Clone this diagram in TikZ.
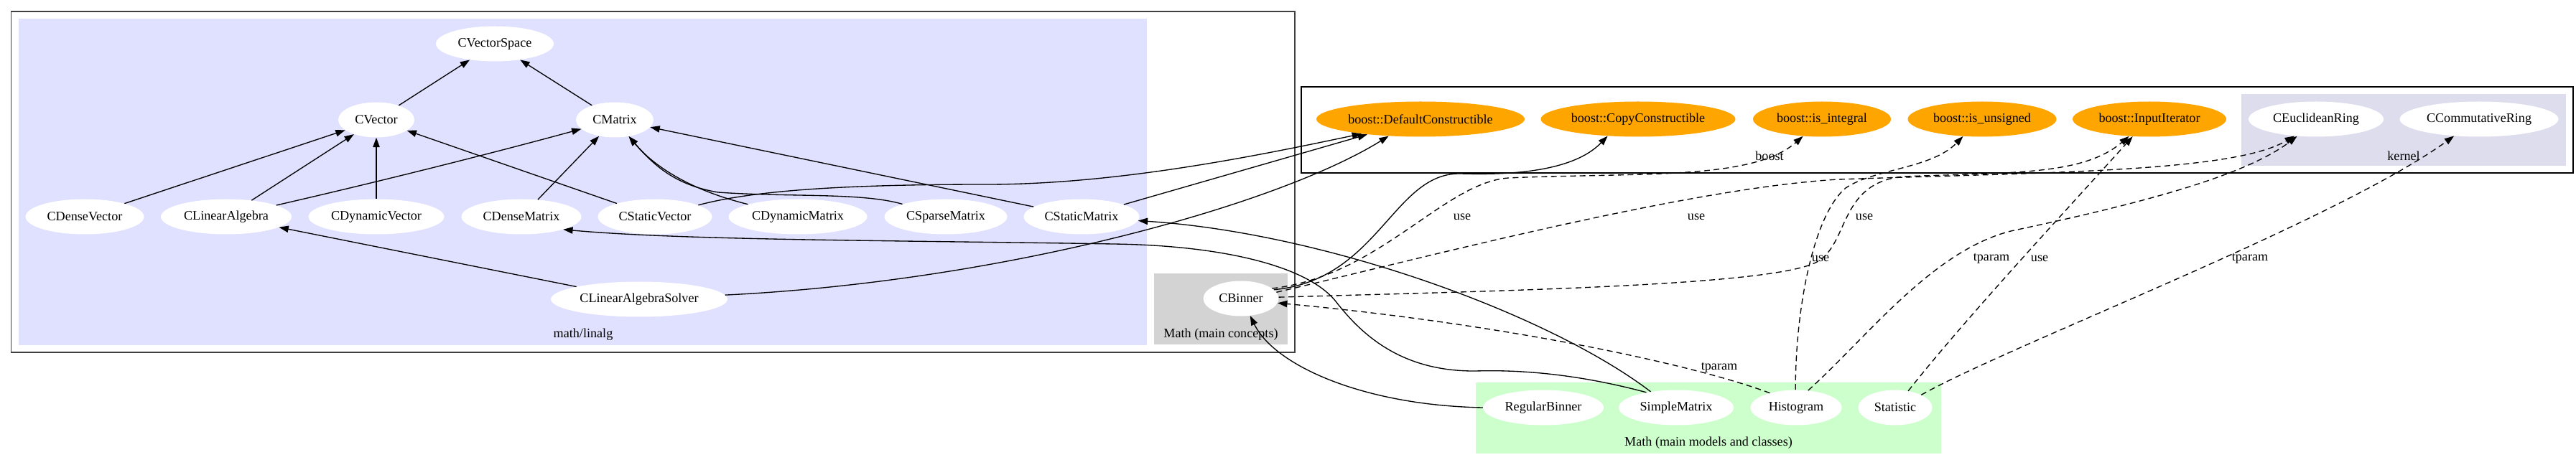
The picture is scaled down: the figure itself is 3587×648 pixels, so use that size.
\documentclass[tikz,border=0pt]{standalone}
\usepackage{fontspec}
\setmainfont{Liberation Serif}
\usetikzlibrary{shapes.geometric,arrows.meta}
\definecolor{linalg}{RGB}{224,224,255}
\definecolor{kern}{RGB}{221,221,238}
\definecolor{concept}{RGB}{211,211,211}
\definecolor{models}{RGB}{204,255,204}
\definecolor{boostor}{RGB}{255,165,0}
\tikzset{
  cls/.style={ellipse, fill=white, inner sep=0pt, minimum height=49*0.75pt, font=\fontsize{13.6}{16}\selectfont},
  ew/.style={minimum width=#1*0.75pt},
  bst/.style={cls, fill=boostor},
  arr/.style={-{Triangle[length=10pt,width=7pt]}, line width=1pt},
  darr/.style={arr, dash pattern=on 6pt off 4pt},
  lbl/.style={font=\fontsize{13.6}{16}\selectfont, inner sep=0pt},
  frame/.style={draw=black, line width=1.1pt},
}
\begin{document}
\begin{tikzpicture}[x=0.75pt,y=-0.75pt]
\useasboundingbox (0,0) rectangle (3587,648);
\fill[white] (0,0) rectangle (3587,648);
% clusters
\draw[frame, draw=black!75, line width=1.4pt] (15.5,15.7) rectangle (1803,491);
\fill[linalg] (26,26) rectangle (1597,481);
\fill[concept] (1607,381) rectangle (1793,480);
\draw[frame] (1812,121) rectangle (3583,241);
\fill[kern] (3121,131) rectangle (3573,231);
\fill[models] (2055,533) rectangle (2703,632);
\node[lbl] (llinalg) at (812,466) {math/linalg};
\node[lbl] (lconc) at (1700,466) {Math (main concepts)};
\node[lbl] (lmod) at (2379,617) {Math (main models and classes)};
\node[lbl] (lboost) at (2464,217) {boost};
\node[lbl] (lkern) at (3347,217) {kernel};
% nodes
\node[cls,ew=164] (vs) at (689,61) {CVectorSpace};
\node[cls,ew=106] (cv) at (524,167) {CVector};
\node[cls,ew=108] (cm) at (856,167) {CMatrix};
\node[cls,ew=165] (cdv) at (118,302) {CDenseVector};
\node[cls,ew=182] (cla) at (315,302) {CLinearAlgebra};
\node[cls,ew=189] (cdyv) at (524,302) {CDynamicVector};
\node[cls,ew=167] (cdm) at (726,302) {CDenseMatrix};
\node[cls,ew=159] (csv) at (912,302) {CStaticVector};
\node[cls,ew=193] (cdym) at (1111,302) {CDynamicMatrix};
\node[cls,ew=171] (csp) at (1317,302) {CSparseMatrix};
\node[cls,ew=161] (csm) at (1506,302) {CStaticMatrix};
\node[cls,ew=246] (clas) at (890,417) {CLinearAlgebraSolver};
\node[cls,ew=105] (cb) at (1728,416) {CBinner};
\node[bst,ew=290] (dc) at (1978,166) {boost::DefaultConstructible};
\node[bst,ew=271] (cc) at (2281,166) {boost::CopyConstructible};
\node[bst,ew=192] (isi) at (2537,166) {boost::is\_integral};
\node[bst,ew=207] (isu) at (2760,166) {boost::is\_unsigned};
\node[bst,ew=214] (ii) at (2993,166) {boost::InputIterator};
\node[cls,ew=188] (ceu) at (3225,166) {CEuclideanRing};
\node[cls,ew=221] (ccr) at (3452,166) {CCommutativeRing};
\node[cls,ew=168] (rb) at (2149,568) {RegularBinner};
\node[cls,ew=160] (smx) at (2334,568) {SimpleMatrix};
\node[cls,ew=127] (hist) at (2501,568) {Histogram};
\node[cls,ew=103] (stat) at (2639,568) {Statistic};
% solid edges
\draw[arr] (cv) -- (vs);
\draw[arr] (cm) -- (vs);
\draw[arr] (cdv) -- (cv);
\draw[arr] (cla) -- (cv);
\draw[arr] (cdyv) -- (cv);
\draw[arr] (csv) -- (cv);
\draw[arr] (cla) .. controls (520,255) and (680,215) .. (cm);
\draw[arr] (cdm) -- (cm);
\draw[arr] (cdym) .. controls (950,262) and (905,225) .. (cm);
\draw[arr] (csp) .. controls (1200,268) and (1100,275) .. (1000,268) .. controls (940,258) and (910,230) .. (cm);
\draw[arr] (csm) -- (cm);
\draw[arr] (clas) -- (cla);
\draw[arr] (csv) .. controls (1050,265) and (1180,257) .. (1374,257) .. controls (1560,257) and (1760,215) .. (dc.194);
\draw[arr] (csm) -- (dc);
\draw[arr] (clas) .. controls (1400,392) and (1780,285) .. (dc.208);
\draw[arr] (cb.15) .. controls (1920,390) and (1940,240) .. (2034,242) .. controls (2100,244) and (2190,240) .. (cc.209);
\draw[arr] (smx.153) .. controls (2200,522) and (2120,515) .. (2055,517) .. controls (1950,518) and (1895,465) .. (1860,420) .. controls (1820,370) and (1700,342) .. (1550,340) .. controls (1250,335) and (950,335) .. (cdm.-17);
\draw[arr] (smx.148) .. controls (2160,440) and (1850,325) .. (csm.-4);
\draw[arr] (rb.180) .. controls (1900,565) and (1775,510) .. (cb.-62);
% dashed edges
\draw[darr] (hist.151) .. controls (2350,505) and (2080,450) .. (cb.-7);
\draw[darr] (cb.18) .. controls (1920,385) and (2010,255) .. (2100,248) .. controls (2280,240) and (2440,252) .. (isi.222);
\draw[darr] (cb.10) .. controls (1980,360) and (2350,262) .. (2560,250) .. controls (2850,240) and (3110,240) .. (ceu.218);
\draw[darr] (cb.2) .. controls (2100,405) and (2470,398) .. (2530,365) .. controls (2575,340) and (2560,255) .. (2650,246) .. controls (2800,240) and (2900,245) .. (ii.220);
\draw[darr] (hist.92) .. controls (2500,430) and (2525,300) .. (2570,262) .. controls (2610,235) and (2690,235) .. (isu.222);
\draw[darr] (hist.55) .. controls (2600,470) and (2690,350) .. (2800,322) .. controls (2950,290) and (3120,250) .. (ceu.222);
\draw[darr] (stat.52) .. controls (2740,440) and (2880,290) .. (ii.226);
\draw[darr] (stat.26) .. controls (2800,480) and (3250,310) .. (ccr.214);
% edge labels
\node[lbl] (u1) at (2036,302) {use};
\node[lbl] (u2) at (2362,302) {use};
\node[lbl] (u3) at (2596,302) {use};
\node[lbl] (u4) at (2535,360) {use};
\node[lbl] (u5) at (2840,360) {use};
\node[lbl] (t1) at (2394,512) {tparam};
\node[lbl] (t2) at (2773,360) {tparam};
\node[lbl] (t3) at (3133,360) {tparam};
\end{tikzpicture}
\end{document}
